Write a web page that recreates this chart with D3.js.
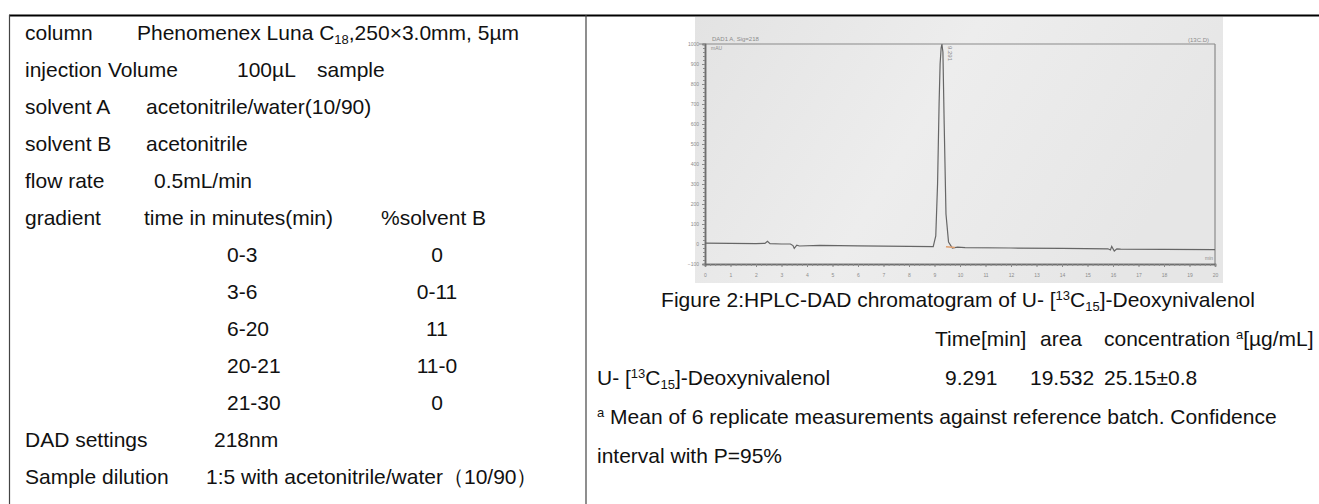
<!DOCTYPE html>
<html>
<head>
<meta charset="utf-8">
<script src="https://cdn.jsdelivr.net/npm/d3@7/dist/d3.min.js"></script>
<style>
  body { margin: 0; background: #fff; }
  svg text { font-family: "Liberation Sans", Arial, sans-serif; fill: #111; white-space: pre; }
  .scan text { fill: #8c8c8c; }
</style>
</head>
<body>
<svg id="chart" width="1319" height="504"></svg>
<script>
// ---- data ----

// HPLC conditions (left cell)
var condLabels = ["column", "injection Volume", "solvent A", "solvent B", "flow rate", "gradient"];
var condValues = [
  [["Phenomenex Luna C"], ["18", "sub"], [",250×3.0mm, 5µm"]],
  [["100µL"]],
  [["acetonitrile/water(10/90)"]],
  [["acetonitrile"]],
  [["0.5mL/min"]],
  [["time in minutes(min)"]]
];
var gradientHeader = "%solvent B";
var gradientTimes = ["0-3", "3-6", "6-20", "20-21", "21-30"];
var gradientB = ["0", "0-11", "11", "11-0", "0"];
var footLabels = ["DAD settings", "Sample dilution"];
var footValues = ["218nm", "1:5 with acetonitrile/water（10/90）"];

// chromatogram trace (time in min, signal in mAU)
var chromTime = [0, 1.0, 2.0, 2.35, 2.45, 2.55, 3.0, 3.35, 3.45, 3.5, 3.6, 3.7, 4.5, 6.0, 8.0, 8.95,
  9.05, 9.12, 9.18, 9.22, 9.26, 9.29, 9.33, 9.38, 9.45, 9.55, 9.7, 9.9, 10.2, 12.0, 14.0,
  15.8, 15.9, 15.95, 16.05, 16.15, 16.3, 18.0, 20.0];
var chromAbs = [4, 3, 2, 3, 14, 2, 0, 0, -8, -22, -6, -10, -7, -9, -12, -13,
  40, 300, 700, 900, 980, 1000, 960, 600, 150, 10, -20, -16, -18, -20, -22,
  -24, -30, -12, -35, -24, -26, -27, -28];
var peakLabel = "9.291";
var integration = [9.45, 9.8];

// results (right cell)
var caption = [["Figure 2:HPLC-DAD chromatogram of U- ["], ["13", "sup"], ["C"], ["15", "sub"], ["]-Deoxynivalenol"]];
var resultHeaders = [[["Time[min]"]], [["area"]], [["concentration "], ["a", "sup"], ["[µg/mL]"]]];
var compound = [["U- ["], ["13", "sup"], ["C"], ["15", "sub"], ["]-Deoxynivalenol"]];
var resultValues = ["9.291", "19.532", "25.15±0.8"];
var footnote = [[["a", "sup"], [" Mean of 6 replicate measurements against reference batch. Confidence"]], [["interval with P=95%"]]];

// ---- drawing ----
var svg = d3.select("#chart");
var fs = 21;

function rich(g, x, y, segs, anchor) {
  var t = g.append("text").attr("x", x).attr("y", y).attr("dy", "0.35em")
    .attr("font-size", fs).attr("text-anchor", anchor || "start");
  segs.forEach(function(s) {
    var sp = t.append("tspan").text(s[0]);
    if (s[1] === "sub") sp.attr("font-size", 13).attr("baseline-shift", -4);
    if (s[1] === "sup") sp.attr("font-size", 13).attr("baseline-shift", 7);
  });
  return t;
}

// table lines
svg.append("line").attr("x1", 9).attr("x2", 1319).attr("y1", 15.5).attr("y2", 15.5)
  .attr("stroke", "#000").attr("stroke-width", 2);
svg.append("line").attr("x1", 9.5).attr("x2", 9.5).attr("y1", 15).attr("y2", 504)
  .attr("stroke", "#444").attr("stroke-width", 1.2);
svg.append("line").attr("x1", 586).attr("x2", 586).attr("y1", 15).attr("y2", 504)
  .attr("stroke", "#444").attr("stroke-width", 1.2);

// left cell
var rowY = d3.scaleLinear().domain([0, 12]).range([33, 477]);
var left = svg.append("g");
var valueX = [137, 237, 146, 146, 154, 144];
condLabels.forEach(function(lab, i) {
  rich(left, 25, rowY(i), [[lab]]);
  rich(left, valueX[i], rowY(i), condValues[i]);
});
rich(left, 317, rowY(1), [["sample"]]);
rich(left, 381, rowY(5), [[gradientHeader]]);
gradientTimes.forEach(function(t, i) {
  rich(left, 227, rowY(6 + i), [[t]]);
  rich(left, 437, rowY(6 + i), [[gradientB[i]]], "middle");
});
rich(left, 25, rowY(11), [[footLabels[0]]]);
rich(left, 214, rowY(11), [[footValues[0]]]);
rich(left, 25, rowY(12), [[footLabels[1]]]);
rich(left, 206, rowY(12), [[footValues[1]]]);

// chromatogram (scanned printout look)
var scan = svg.append("g").attr("class", "scan");
var grad = svg.append("defs").append("linearGradient").attr("id", "paper")
  .attr("x1", 0).attr("x2", 1).attr("y1", 0).attr("y2", 0.3);
grad.append("stop").attr("offset", 0).attr("stop-color", "#e3e3e3");
grad.append("stop").attr("offset", 0.5).attr("stop-color", "#ededed");
grad.append("stop").attr("offset", 1).attr("stop-color", "#e6e6e6");
scan.append("rect").attr("x", 695).attr("y", 17).attr("width", 528).attr("height", 266)
  .attr("fill", "url(#paper)");

var x = d3.scaleLinear().domain([0, 20]).range([705, 1215]);
var y = d3.scaleLinear().domain([-100, 1000]).range([264, 44]);

// frame
scan.append("line").attr("x1", 699).attr("x2", x.range()[1]).attr("y1", y(1000)).attr("y2", y(1000))
  .attr("stroke", "#8a8a8a").attr("stroke-width", 1.2);
scan.append("line").attr("x1", x.range()[1]).attr("x2", x.range()[1]).attr("y1", y(1000)).attr("y2", y(-100))
  .attr("stroke", "#8a8a8a").attr("stroke-width", 1.2);

var xAxis = scan.append("g").attr("transform", "translate(0," + y(-100) + ")")
  .call(d3.axisBottom(x).ticks(20).tickSize(3).tickFormat(d3.format("d")));
scan.append("g").attr("transform", "translate(0," + y(-100) + ")")
  .call(d3.axisBottom(x).ticks(100).tickSize(2).tickFormat(""));
var yAxis = scan.append("g").attr("transform", "translate(" + x.range()[0] + ",0)")
  .call(d3.axisLeft(y).ticks(11).tickSize(3).tickFormat(d3.format("d")));
scan.append("g").attr("transform", "translate(" + x.range()[0] + ",0)")
  .call(d3.axisLeft(y).ticks(55).tickSize(2).tickFormat(""));
scan.selectAll(".domain").attr("stroke", "#6e6e6e").attr("stroke-width", 1.5);
scan.selectAll(".tick line").attr("stroke", "#8a8a8a");
xAxis.selectAll("text").attr("font-size", 5).attr("fill", "#999").attr("dy", "1.4em");
yAxis.selectAll("text").attr("font-size", 5).attr("fill", "#999");

// small header prints
scan.append("text").attr("x", 712).attr("y", 41).attr("font-size", 6).text("DAD1 A, Sig=218");
scan.append("text").attr("x", 711).attr("y", 50).attr("font-size", 5).text("mAU");
scan.append("text").attr("x", 1188).attr("y", 42).attr("font-size", 6).text("(13C.D)");
scan.append("text").attr("x", 1205).attr("y", 260).attr("font-size", 5).text("min");

// trace
var pts = chromTime.map(function(t, i) { return [t, chromAbs[i]]; });
scan.append("path").datum(pts)
  .attr("fill", "none").attr("stroke", "#666").attr("stroke-width", 1.2)
  .attr("d", d3.line().x(function(d) { return x(d[0]); }).y(function(d) { return y(d[1]); }));
scan.append("line")
  .attr("x1", x(integration[0])).attr("x2", x(integration[1]))
  .attr("y1", y(-14)).attr("y2", y(-18))
  .attr("stroke", "#e0a070").attr("stroke-width", 1.5);
scan.append("text").attr("transform", "translate(" + (x(9.29) + 6) + "," + (y(1000) + 2) + ") rotate(90)")
  .attr("font-size", 6).attr("fill", "#777").text(peakLabel);

// right cell text
var rightY = d3.scaleLinear().domain([0, 4]).range([300, 456]);
var right = svg.append("g");
rich(right, 958, rightY(0), caption, "middle");
var headX = [935, 1040, 1104];
resultHeaders.forEach(function(h, i) { rich(right, headX[i], rightY(1), h); });
rich(right, 597, rightY(2), compound);
var valX = [945, 1030, 1104];
resultValues.forEach(function(v, i) { rich(right, valX[i], rightY(2), [[v]]); });
rich(right, 597, rightY(3), footnote[0]);
rich(right, 597, rightY(4), footnote[1]);
</script>
</body>
</html>
